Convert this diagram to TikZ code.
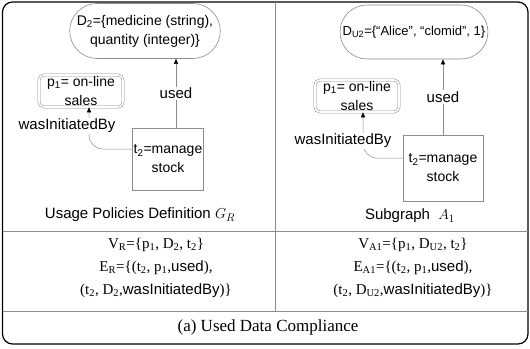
\documentclass[tikz,border=0pt]{standalone}
\usepackage{fontspec}
\setmainfont{Liberation Serif}
\setsansfont{Liberation Sans}
\usetikzlibrary{shapes.misc,arrows.meta}
\begin{document}
\begin{tikzpicture}[x=1pt,y=-1pt,
  gline/.style={draw=black!45,line width=0.6pt},
  nodetext/.style={font=\sffamily\fontsize{14}{19}\selectfont,align=center,text=black},
  datanode/.style={nodetext,rounded rectangle,draw=black!45,line width=0.6pt,inner sep=2pt},
  agentnode/.style={nodetext,draw=black!45,line width=0.5pt,double,double distance=1.6pt,rounded corners=5pt,inner sep=1pt},
  actnode/.style={nodetext,rectangle,draw=black!45,line width=0.6pt,inner sep=1pt},
  edge/.style={draw=black!45,line width=0.5pt,-{Triangle[length=5pt,width=4pt,color=black]}},
  lab/.style={nodetext,font=\sffamily\fontsize{15}{18}\selectfont,fill=white,inner sep=1pt},
  ttl/.style={font=\sffamily\fontsize{15}{18}\selectfont},
  tabtext/.style={font=\fontsize{15}{23}\selectfont,align=center}]
\useasboundingbox (0,0) rectangle (530,348);
% frame
\draw[line width=1.2pt,rounded corners=10pt] (2.5,2) rectangle (528,344);
\draw[gline] (275,2) -- (275,311);
\draw[gline] (2.5,231) -- (528,231);
\draw[gline] (2.5,311) -- (528,311);
% left panel
\node[datanode,minimum width=116pt,minimum height=55pt] (d2) at (145,31) {D\textsubscript{2}=\{medicine (string),\\quantity (integer)\}};
\node[agentnode,minimum width=84pt,minimum height=32pt] (p1) at (81,91) {p\textsubscript{1}= on-line\\sales};
\node[actnode,minimum width=66pt,minimum height=62pt] (t2) at (168,159) {t\textsubscript{2}=manage\\stock};
\coordinate (u1) at ([xshift=8pt]t2.north);
\draw[edge] (u1) -- node[lab]{used} (u1 |- d2.south);
\draw[edge,rounded corners=14pt] ([yshift=10pt]t2.west) -| ([xshift=8pt]p1.south);
\node[lab] (w1) at (67,126) {wasInitiatedBy};
\node[ttl] (g1) at (140,215) {Usage Policies Definition $G_R$};
% right panel
\node[datanode,font=\sffamily\fontsize{13}{17}\selectfont,minimum width=116pt,minimum height=54pt] (du) at (414,32) {D\textsubscript{U2}=\{“Alice”, “clomid”, 1\}};
\node[agentnode,minimum width=84pt,minimum height=32pt] (p2) at (357,96) {p\textsubscript{1}= on-line\\sales};
\node[actnode,minimum width=80pt,minimum height=66pt] (t3) at (443,168) {t\textsubscript{2}=manage\\stock};
\draw[edge] (t3.north) -- node[lab]{used} (t3.north |- du.south);
\draw[edge,rounded corners=14pt] ([yshift=10pt]t3.west) -| ([xshift=6pt]p2.south);
\node[lab] (w2) at (343,141) {wasInitiatedBy};
\node[ttl] (g2) at (410,216) {Subgraph\ \ $A_1$};
% table
\node[tabtext] (vr) at (156,268) {V\textsubscript{R}=\{p\textsubscript{1}, D\textsubscript{2}, t\textsubscript{2}\}\\E\textsubscript{R}=\{(t\textsubscript{2}, p\textsubscript{1},{\sffamily used}),\\(t\textsubscript{2}, D\textsubscript{2},{\sffamily wasInitiatedBy})\}};
\node[tabtext] (va) at (413,268) {V\textsubscript{A1}=\{p\textsubscript{1}, D\textsubscript{U2}, t\textsubscript{2}\}\\E\textsubscript{A1}=\{(t\textsubscript{2}, p\textsubscript{1},{\sffamily used}),\\(t\textsubscript{2}, D\textsubscript{U2},{\sffamily wasInitiatedBy})\}};
\node[font=\fontsize{17}{20}\selectfont] (cap) at (268,327) {(a) Used Data Compliance};
\end{tikzpicture}
\end{document}
